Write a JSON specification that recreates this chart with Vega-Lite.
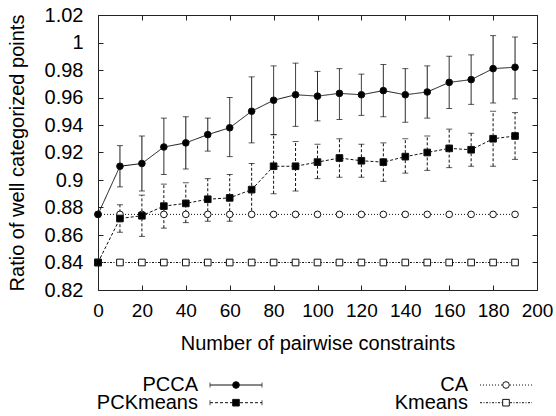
{
  "$schema": "https://vega.github.io/schema/vega-lite/v6.json",
  "padding": {"left": 7, "top": 5, "right": 0, "bottom": 0},
  "bounds": "flush",
  "spacing": 81,
  "datasets": {
    "main": [
      {"series": "CA", "n": 0, "ratio": 0.875}, {"series": "CA", "n": 10, "ratio": 0.875}, {"series": "CA", "n": 20, "ratio": 0.875}, {"series": "CA", "n": 30, "ratio": 0.875}, {"series": "CA", "n": 40, "ratio": 0.875}, {"series": "CA", "n": 50, "ratio": 0.875}, {"series": "CA", "n": 60, "ratio": 0.875}, {"series": "CA", "n": 70, "ratio": 0.875}, {"series": "CA", "n": 80, "ratio": 0.875}, {"series": "CA", "n": 90, "ratio": 0.875}, {"series": "CA", "n": 100, "ratio": 0.875}, {"series": "CA", "n": 110, "ratio": 0.875}, {"series": "CA", "n": 120, "ratio": 0.875}, {"series": "CA", "n": 130, "ratio": 0.875}, {"series": "CA", "n": 140, "ratio": 0.875}, {"series": "CA", "n": 150, "ratio": 0.875}, {"series": "CA", "n": 160, "ratio": 0.875}, {"series": "CA", "n": 170, "ratio": 0.875}, {"series": "CA", "n": 180, "ratio": 0.875}, {"series": "CA", "n": 190, "ratio": 0.875},
      {"series": "Kmeans", "n": 0, "ratio": 0.84}, {"series": "Kmeans", "n": 10, "ratio": 0.84}, {"series": "Kmeans", "n": 20, "ratio": 0.84}, {"series": "Kmeans", "n": 30, "ratio": 0.84}, {"series": "Kmeans", "n": 40, "ratio": 0.84}, {"series": "Kmeans", "n": 50, "ratio": 0.84}, {"series": "Kmeans", "n": 60, "ratio": 0.84}, {"series": "Kmeans", "n": 70, "ratio": 0.84}, {"series": "Kmeans", "n": 80, "ratio": 0.84}, {"series": "Kmeans", "n": 90, "ratio": 0.84}, {"series": "Kmeans", "n": 100, "ratio": 0.84}, {"series": "Kmeans", "n": 110, "ratio": 0.84}, {"series": "Kmeans", "n": 120, "ratio": 0.84}, {"series": "Kmeans", "n": 130, "ratio": 0.84}, {"series": "Kmeans", "n": 140, "ratio": 0.84}, {"series": "Kmeans", "n": 150, "ratio": 0.84}, {"series": "Kmeans", "n": 160, "ratio": 0.84}, {"series": "Kmeans", "n": 170, "ratio": 0.84}, {"series": "Kmeans", "n": 180, "ratio": 0.84}, {"series": "Kmeans", "n": 190, "ratio": 0.84},
      {"series": "PCKmeans", "n": 0, "ratio": 0.840},
      {"series": "PCKmeans", "n": 10, "ratio": 0.872, "lo": 0.862, "hi": 0.882},
      {"series": "PCKmeans", "n": 20, "ratio": 0.874, "lo": 0.859, "hi": 0.889},
      {"series": "PCKmeans", "n": 30, "ratio": 0.881, "lo": 0.865, "hi": 0.897},
      {"series": "PCKmeans", "n": 40, "ratio": 0.883, "lo": 0.869, "hi": 0.898},
      {"series": "PCKmeans", "n": 50, "ratio": 0.886, "lo": 0.870, "hi": 0.901},
      {"series": "PCKmeans", "n": 60, "ratio": 0.887, "lo": 0.870, "hi": 0.904},
      {"series": "PCKmeans", "n": 70, "ratio": 0.893, "lo": 0.874, "hi": 0.912},
      {"series": "PCKmeans", "n": 80, "ratio": 0.910, "lo": 0.890, "hi": 0.933},
      {"series": "PCKmeans", "n": 90, "ratio": 0.910, "lo": 0.892, "hi": 0.928},
      {"series": "PCKmeans", "n": 100, "ratio": 0.913, "lo": 0.901, "hi": 0.926},
      {"series": "PCKmeans", "n": 110, "ratio": 0.916, "lo": 0.902, "hi": 0.930},
      {"series": "PCKmeans", "n": 120, "ratio": 0.914, "lo": 0.902, "hi": 0.926},
      {"series": "PCKmeans", "n": 130, "ratio": 0.913, "lo": 0.899, "hi": 0.927},
      {"series": "PCKmeans", "n": 140, "ratio": 0.917, "lo": 0.905, "hi": 0.930},
      {"series": "PCKmeans", "n": 150, "ratio": 0.920, "lo": 0.907, "hi": 0.932},
      {"series": "PCKmeans", "n": 160, "ratio": 0.923, "lo": 0.909, "hi": 0.937},
      {"series": "PCKmeans", "n": 170, "ratio": 0.922, "lo": 0.910, "hi": 0.934},
      {"series": "PCKmeans", "n": 180, "ratio": 0.930, "lo": 0.910, "hi": 0.950},
      {"series": "PCKmeans", "n": 190, "ratio": 0.932, "lo": 0.915, "hi": 0.949},
      {"series": "PCCA", "n": 0, "ratio": 0.875},
      {"series": "PCCA", "n": 10, "ratio": 0.910, "lo": 0.895, "hi": 0.925},
      {"series": "PCCA", "n": 20, "ratio": 0.912, "lo": 0.892, "hi": 0.932},
      {"series": "PCCA", "n": 30, "ratio": 0.924, "lo": 0.904, "hi": 0.945},
      {"series": "PCCA", "n": 40, "ratio": 0.927, "lo": 0.908, "hi": 0.946},
      {"series": "PCCA", "n": 50, "ratio": 0.933, "lo": 0.921, "hi": 0.945},
      {"series": "PCCA", "n": 60, "ratio": 0.938, "lo": 0.917, "hi": 0.960},
      {"series": "PCCA", "n": 70, "ratio": 0.950, "lo": 0.927, "hi": 0.975},
      {"series": "PCCA", "n": 80, "ratio": 0.958, "lo": 0.933, "hi": 0.983},
      {"series": "PCCA", "n": 90, "ratio": 0.962, "lo": 0.939, "hi": 0.985},
      {"series": "PCCA", "n": 100, "ratio": 0.961, "lo": 0.943, "hi": 0.979},
      {"series": "PCCA", "n": 110, "ratio": 0.963, "lo": 0.944, "hi": 0.981},
      {"series": "PCCA", "n": 120, "ratio": 0.962, "lo": 0.947, "hi": 0.977},
      {"series": "PCCA", "n": 130, "ratio": 0.965, "lo": 0.946, "hi": 0.984},
      {"series": "PCCA", "n": 140, "ratio": 0.962, "lo": 0.942, "hi": 0.981},
      {"series": "PCCA", "n": 150, "ratio": 0.964, "lo": 0.945, "hi": 0.983},
      {"series": "PCCA", "n": 160, "ratio": 0.971, "lo": 0.952, "hi": 0.990},
      {"series": "PCCA", "n": 170, "ratio": 0.973, "lo": 0.955, "hi": 0.991},
      {"series": "PCCA", "n": 180, "ratio": 0.981, "lo": 0.956, "hi": 1.005},
      {"series": "PCCA", "n": 190, "ratio": 0.982, "lo": 0.959, "hi": 1.004}
    ],
    "legend": [
      {"series": "PCCA", "col": 1, "row": 1},
      {"series": "CA", "col": 2, "row": 1},
      {"series": "PCKmeans", "col": 1, "row": 2},
      {"series": "Kmeans", "col": 2, "row": 2}
    ]
  },
  "vconcat": [
    {
      "width": 439,
      "height": 275,
      "data": {"name": "main"},
      "encoding": {
        "x": {"field": "n", "type": "quantitative", "scale": {"domain": [0, 200], "nice": false, "zero": false}, "axis": null},
        "y": {"field": "ratio", "type": "quantitative", "scale": {"domain": [0.82, 1.02], "nice": false, "zero": false}, "axis": null}
      },
      "layer": [
        {
          "mark": {"type": "line", "strokeWidth": 1, "color": "#111"},
          "encoding": {
            "x": {"field": "n", "type": "quantitative", "axis": {"orient": "bottom", "values": [0, 20, 40, 60, 80, 100, 120, 140, 160, 180, 200], "title": "Number of pairwise constraints", "labelPadding": 16, "titlePadding": 13, "labelOverlap": false, "labelFlush": false}},
            "y": {"field": "ratio", "type": "quantitative", "axis": {"orient": "left", "values": [0.82, 0.84, 0.86, 0.88, 0.9, 0.92, 0.94, 0.96, 0.98, 1, 1.02], "format": "~g", "title": "Ratio of well categorized points", "labelPadding": 20, "titlePadding": 17, "labelFontSize": 20, "labelOverlap": false, "labelFlush": false}},
            "detail": {"field": "series"},
            "strokeDash": {"field": "series", "type": "nominal", "scale": {"domain": ["PCCA", "PCKmeans", "CA", "Kmeans"], "range": [[1, 0], [3, 2], [1, 2], [2, 1.5, 1, 1.5]]}, "legend": null}
          }
        },
        {
          "transform": [{"filter": "isValid(datum.lo)"}],
          "mark": {"type": "rule", "strokeWidth": 1, "color": "#111"},
          "encoding": {
            "x": {"field": "n", "type": "quantitative", "axis": {"orient": "top", "values": [0, 20, 40, 60, 80, 100, 120, 140, 160, 180, 200], "labels": false, "title": null}},
            "y": {"field": "lo", "type": "quantitative", "axis": {"orient": "right", "values": [0.82, 0.84, 0.86, 0.88, 0.9, 0.92, 0.94, 0.96, 0.98, 1, 1.02], "labels": false, "title": null}},
            "y2": {"field": "hi"},
            "strokeDash": {"field": "series", "type": "nominal", "scale": {"domain": ["PCCA", "PCKmeans", "CA", "Kmeans"], "range": [[1, 0], [2, 1.5], [1, 2], [2, 1.5, 1, 1.5]]}, "legend": null}
          }
        },
        {
          "transform": [{"filter": "isValid(datum.lo)"}],
          "mark": {"type": "tick", "orient": "horizontal", "size": 6, "thickness": 1, "color": "#111"},
          "encoding": {"y": {"field": "lo", "type": "quantitative", "axis": null}}
        },
        {
          "transform": [{"filter": "isValid(datum.hi)"}],
          "mark": {"type": "tick", "orient": "horizontal", "size": 6, "thickness": 1, "color": "#111"},
          "encoding": {"y": {"field": "hi", "type": "quantitative", "axis": null}}
        },
        {
          "mark": {"type": "point", "opacity": 1, "strokeWidth": 1, "stroke": "#111", "size": 44},
          "encoding": {
            "shape": {"field": "series", "type": "nominal", "scale": {"domain": ["PCCA", "PCKmeans", "CA", "Kmeans"], "range": ["circle", "square", "circle", "square"]}, "legend": null},
            "fill": {"field": "series", "type": "nominal", "scale": {"domain": ["PCCA", "PCKmeans", "CA", "Kmeans"], "range": ["#000000", "#000000", "#ffffff", "#ffffff"]}, "legend": null}
          }
        }
      ]
    },
    {
      "width": 439,
      "height": 40,
      "data": {"name": "legend"},
      "encoding": {
        "x": {"field": "col", "type": "quantitative", "scale": {"domain": [0.48889, 2.11481], "nice": false, "zero": false}, "axis": null},
        "y": {"field": "row", "type": "quantitative", "scale": {"domain": [0.209, 2.469], "nice": false, "zero": false, "reverse": true}, "axis": null}
      },
      "layer": [
        {
          "mark": {"type": "rule", "strokeWidth": 1, "color": "#111", "xOffset": -26, "x2Offset": 26},
          "encoding": {
            "x2": {"field": "col"},
            "strokeDash": {"field": "series", "type": "nominal", "scale": {"domain": ["PCCA", "PCKmeans", "CA", "Kmeans"], "range": [[1, 0], [3, 2], [1, 2], [2, 1.5, 1, 1.5]]}, "legend": null}
          }
        },
        {
          "transform": [{"filter": {"field": "series", "oneOf": ["PCCA", "PCKmeans"]}}],
          "mark": {"type": "tick", "orient": "vertical", "size": 5, "thickness": 1, "color": "#111", "xOffset": -26}
        },
        {
          "transform": [{"filter": {"field": "series", "oneOf": ["PCCA", "PCKmeans"]}}],
          "mark": {"type": "tick", "orient": "vertical", "size": 5, "thickness": 1, "color": "#111", "xOffset": 26}
        },
        {
          "mark": {"type": "point", "opacity": 1, "strokeWidth": 1, "stroke": "#111", "size": 44},
          "encoding": {
            "shape": {"field": "series", "type": "nominal", "scale": {"domain": ["PCCA", "PCKmeans", "CA", "Kmeans"], "range": ["circle", "square", "circle", "square"]}, "legend": null},
            "fill": {"field": "series", "type": "nominal", "scale": {"domain": ["PCCA", "PCKmeans", "CA", "Kmeans"], "range": ["#000000", "#000000", "#ffffff", "#ffffff"]}, "legend": null}
          }
        },
        {
          "mark": {"type": "text", "align": "right", "baseline": "middle", "dx": -38, "fontSize": 20, "font": "Liberation Sans", "color": "#000"},
          "encoding": {"text": {"field": "series", "type": "nominal"}}
        }
      ]
    }
  ],
  "config": {
    "font": "Liberation Sans",
    "view": {"stroke": null},
    "axis": {
      "labelFont": "Liberation Sans",
      "titleFont": "Liberation Sans",
      "labelFontSize": 19,
      "titleFontSize": 20,
      "titleFontWeight": "normal",
      "labelColor": "#000",
      "titleColor": "#000",
      "domainColor": "#222",
      "tickColor": "#222",
      "grid": false,
      "tickSize": -5
    }
  }
}
